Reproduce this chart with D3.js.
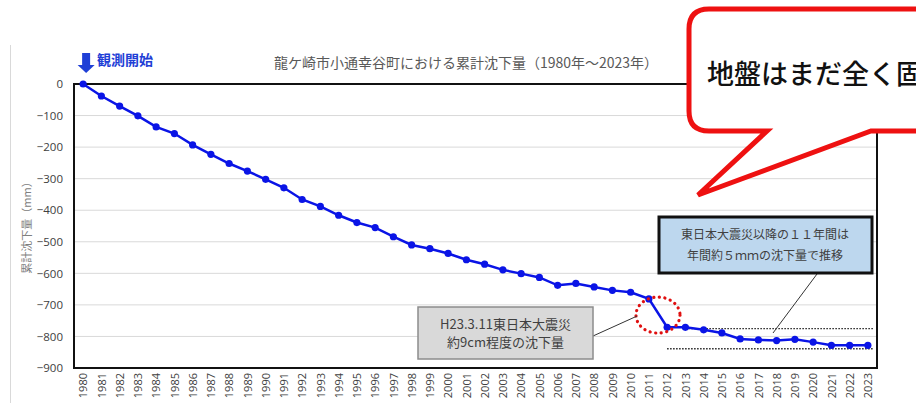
<!DOCTYPE html>
<html>
<head>
<meta charset="utf-8">
<script src="https://cdn.jsdelivr.net/npm/d3@7"></script>
<style>
  body { margin: 0; background: #fff; }
  svg { display: block; }
  .jp { font-family: "Noto Sans CJK JP", sans-serif; }
  .tick text { font-family: "Open Sans", "Liberation Sans", sans-serif; }
</style>
</head>
<body>
<div id="chart"></div>
<script>
// Data
const years = ["1980","1981","1982","1983","1984","1985","1986","1987","1988","1989",
  "1990","1991","1992","1993","1994","1995","1996","1997","1998","1999",
  "2000","2001","2002","2003","2004","2005","2006","2007","2008","2009",
  "2010","2011","2012","2013","2014","2015","2016","2017","2018","2019",
  "2020","2021","2022","2023"];
const subsidence = [0, -38, -70, -101, -136, -157, -193, -223, -252, -276,
  -302, -329, -366, -388, -416, -439, -455, -484, -510, -522,
  -537, -557, -571, -589, -601, -613, -638, -632, -643, -654,
  -660, -681, -771, -771, -779, -789, -808, -811, -813, -809,
  -818, -828, -828, -828];
const yTicks = [0, -100, -200, -300, -400, -500, -600, -700, -800, -900];
const refLines = [
  { value: -775, from: "2013", to: "2023" },
  { value: -839, from: "2012", to: "2023" }
];

const width = 916;
const height = 403;
const plot = { left: 74, right: 877, top: 84, bottom: 368 };

const svg = d3.select("#chart").append("svg")
    .attr("width", width)
    .attr("height", height);

const x = d3.scalePoint()
    .domain(years)
    .range([plot.left, plot.right])
    .padding(0.5);

const y = d3.scaleLinear()
    .domain([-900, 0])
    .range([plot.bottom, plot.top]);

// chart frame line on the left
svg.append("line")
    .attr("x1", 10.5).attr("x2", 10.5)
    .attr("y1", 45).attr("y2", height)
    .attr("stroke", "#d9d9d9");

// gridlines
svg.append("g")
    .selectAll("line")
    .data(yTicks.filter(d => d !== 0 && d !== -900))
    .join("line")
    .attr("x1", plot.left).attr("x2", plot.right)
    .attr("y1", d => y(d)).attr("y2", d => y(d))
    .attr("stroke", "#d9d9d9")
    .attr("stroke-width", 1);

// y axis
const yAxis = svg.append("g")
    .attr("transform", `translate(${plot.left},0)`)
    .call(d3.axisLeft(y).tickValues(yTicks).tickSize(0).tickPadding(11));
yAxis.select(".domain").remove();
yAxis.selectAll("text")
    .attr("fill", "#404040")
    .style("font-size", "11.5px");

// x axis
const xAxis = svg.append("g")
    .attr("transform", `translate(0,${plot.bottom})`)
    .call(d3.axisBottom(x).tickSize(0));
xAxis.select(".domain").remove();
xAxis.selectAll("text")
    .attr("fill", "#404040")
    .style("font-size", "11px")
    .attr("transform", "rotate(-90)")
    .attr("text-anchor", "end")
    .attr("x", -5)
    .attr("y", 0)
    .attr("dy", "0.35em");

// plot border
svg.append("rect")
    .attr("x", plot.left).attr("y", plot.top)
    .attr("width", plot.right - plot.left)
    .attr("height", plot.bottom - plot.top)
    .attr("fill", "none")
    .attr("stroke", "#111")
    .attr("stroke-width", 2);

// y axis title
svg.append("text")
    .attr("class", "jp")
    .attr("transform", "translate(31,225) rotate(-90)")
    .attr("text-anchor", "middle")
    .attr("fill", "#808080")
    .style("font-size", "11px")
    .text("累計沈下量（mm）");

// title
svg.append("text")
    .attr("class", "jp")
    .attr("x", 466)
    .attr("y", 68)
    .attr("text-anchor", "middle")
    .attr("fill", "#595959")
    .style("font-size", "14px")
    .text("龍ケ崎市小通幸谷町における累計沈下量（1980年～2023年）");

// reference dotted lines
svg.append("g")
    .selectAll("line")
    .data(refLines)
    .join("line")
    .attr("x1", d => x(d.from)).attr("x2", d => x(d.to) + 6)
    .attr("y1", d => y(d.value)).attr("y2", d => y(d.value))
    .attr("stroke", "#222")
    .attr("stroke-width", 1.3)
    .attr("stroke-dasharray", "1.5,1.5");

// series line
svg.append("path")
    .datum(subsidence)
    .attr("fill", "none")
    .attr("stroke", "#0a14e6")
    .attr("stroke-width", 2.5)
    .attr("d", d3.line()
        .x((d, i) => x(years[i]))
        .y(d => y(d)));

svg.append("g")
    .selectAll("circle")
    .data(subsidence)
    .join("circle")
    .attr("cx", (d, i) => x(years[i]))
    .attr("cy", d => y(d))
    .attr("r", 3.6)
    .attr("fill", "#0a14e6");

// start marker
const x0 = x("1980") + 3;
svg.append("path")
    .attr("d", `M${x0 - 4},53 H${x0 + 4} V65 H${x0 + 8.5} L${x0},73 L${x0 - 8.5},65 H${x0 - 4} Z`)
    .attr("fill", "#1f3fd6");
svg.append("text")
    .attr("class", "jp")
    .attr("x", 97)
    .attr("y", 65)
    .attr("fill", "#1f3fd6")
    .style("font-size", "14px")
    .style("font-weight", "bold")
    .text("観測開始");

// earthquake circle
const quakeX = (x("2011") + x("2012")) / 2;
const quakeY = y((subsidence[31] + subsidence[32]) / 2);
svg.append("ellipse")
    .attr("cx", quakeX).attr("cy", quakeY + 2)
    .attr("rx", 22).attr("ry", 18)
    .attr("fill", "none")
    .attr("stroke", "#e01010")
    .attr("stroke-width", 3.2)
    .attr("stroke-dasharray", "0.1,5.5")
    .attr("stroke-linecap", "round");

// gray annotation
svg.append("line")
    .attr("x1", 593).attr("y1", 336)
    .attr("x2", quakeX - 21).attr("y2", quakeY + 3)
    .attr("stroke", "#333").attr("stroke-width", 1);
svg.append("rect")
    .attr("x", 418).attr("y", 307)
    .attr("width", 175).attr("height", 52)
    .attr("fill", "#d9d9d9")
    .attr("stroke", "#8c8c8c")
    .attr("stroke-width", 1.5);
svg.append("text")
    .attr("class", "jp")
    .attr("x", 505.5)
    .attr("text-anchor", "middle")
    .attr("fill", "#404040")
    .style("font-size", "13px")
    .selectAll("tspan")
    .data(["H23.3.11東日本大震災", "約9cm程度の沈下量"])
    .join("tspan")
    .attr("x", 505.5)
    .attr("y", (d, i) => 329 + i * 18)
    .text(d => d);

// blue annotation
svg.append("line")
    .attr("x1", 817).attr("y1", 274)
    .attr("x2", 773).attr("y2", 333)
    .attr("stroke", "#333").attr("stroke-width", 1);
svg.append("rect")
    .attr("x", 659).attr("y", 217)
    .attr("width", 213).attr("height", 56)
    .attr("fill", "#bdd7ee")
    .attr("stroke", "#111")
    .attr("stroke-width", 3);
svg.append("text")
    .attr("class", "jp")
    .attr("text-anchor", "middle")
    .attr("fill", "#404040")
    .style("font-size", "12px")
    .selectAll("tspan")
    .data(["東日本大震災以降の１１年間は", "年間約５ｍｍの沈下量で推移"])
    .join("tspan")
    .attr("x", 765)
    .attr("y", (d, i) => 239 + i * 21)
    .text(d => d);

// speech bubble
const bx = 689, by = 9, bw = 300, bh = 122, r = 20;
const tailL = 767, tailR = 871, tip = [698, 195];
svg.append("path")
    .attr("d", `M${bx + r},${by} H${bx + bw} V${by + bh} H${tailR} L${tip[0]},${tip[1]} L${tailL},${by + bh}` +
        ` H${bx + r} Q${bx},${by + bh} ${bx},${by + bh - r} V${by + r} Q${bx},${by} ${bx + r},${by} Z`)
    .attr("fill", "#fff")
    .attr("stroke", "#ee1111")
    .attr("stroke-width", 5)
    .attr("stroke-linejoin", "miter");
svg.append("text")
    .attr("class", "jp")
    .attr("x", 707)
    .attr("y", 84)
    .attr("fill", "#111")
    .style("font-size", "27px")
    .style("font-weight", "500")
    .text("地盤はまだ全く固まっていない");
</script>
</body>
</html>
